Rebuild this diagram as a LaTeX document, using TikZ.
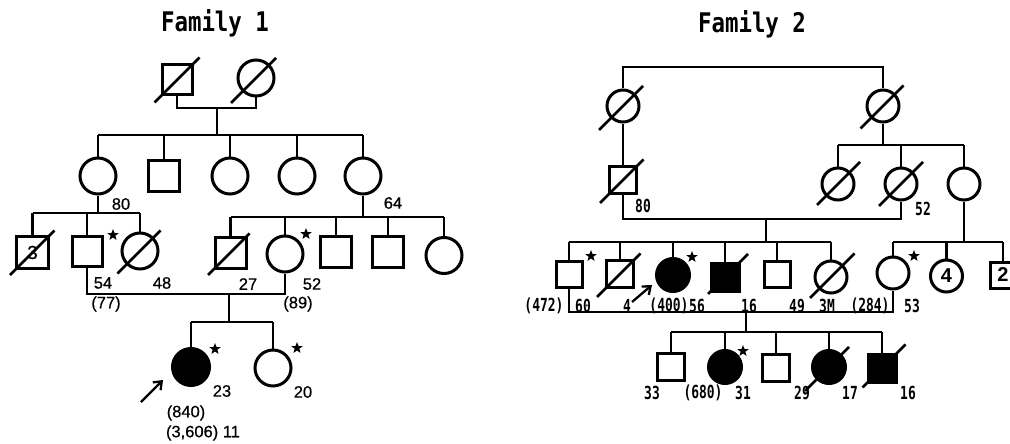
\documentclass[tikz,border=0pt]{standalone}
\usepackage{fontspec}
\setmainfont{Liberation Sans}
\newfontfamily\labfont[FakeBold=0.6]{Liberation Sans}
\newfontfamily\monofont[FakeStretch=0.83]{DejaVu Sans Mono}
\newfontfamily\narrowfont[FakeStretch=0.72]{DejaVu Sans Mono}
\usetikzlibrary{shapes.geometric,arrows.meta,calc}
\tikzset{
 ind/.style={draw,line width=3pt,inner sep=0pt},
 male/.style={ind,rectangle,minimum size=#1},
 male/.default=30,
 fem/.style={ind,circle,minimum size=#1},
 fem/.default=36,
 aff/.style={fill=black},
 conn/.style={line width=2.7pt},
 slashl/.style={line width=2.6pt},
 starm/.style={star,star points=5,star point ratio=2.4,fill=black,draw=none,minimum size=12pt,inner sep=0pt},
 lab1/.style={font=\labfont\fontsize{16.5}{16.5}\selectfont,inner sep=0pt},
 lab2/.style={font=\narrowfont\bfseries\fontsize{18}{18}\selectfont,inner sep=0pt},
 ttl/.style={font=\monofont\bfseries\fontsize{27}{27}\selectfont,inner sep=0pt},
 inlab/.style={font=\labfont\fontsize{19}{19}\selectfont},
 probarrow/.style={line width=2.3pt,-{Straight Barb[length=7pt,width=11pt]}},
}
\newcommand\slashme[3]{\draw[slashl] ($(#1)+(-#2,#2)$) -- ($(#1)+(#3,-#3)$);}
\begin{document}
\begin{tikzpicture}[x=1pt,y=-1pt]
\useasboundingbox (0,0) rectangle (1010,444);
%%%%%%%%%%%%%%%% Family 1
\node[ttl] (t1) at (215,23) {Family 1};
\node[male=30] (gf) at (177,80) {};
\node[fem=36] (gm) at (256,78) {};
\slashme{gf}{22.5}{22.5}
\slashme{gm}{25}{20}
\coordinate (m1) at (217,108);
\coordinate (sib1) at (217,135);
\draw[conn] (gf.south) |- (m1) -| (gm.south);
\draw[conn] (m1) -- (sib1);
% generation II
\node[fem] (a1) at (98,176) {};
\node[male=31] (a2) at (164,175.5) {};
\node[fem] (a3) at (230,176) {};
\node[fem] (a4) at (297,176) {};
\node[fem] (a5) at (363,176) {};
\draw[conn] (a1.north |- sib1) -- (a5.north |- sib1);
\foreach \n in {a1,a2,a3,a4,a5} \draw[conn] (\n.north) -- (\n.north |- sib1);
% sibship of a1
\coordinate (sib2) at (98,213);
\draw[conn] (a1.south) -- (sib2);
\node[male=32,inlab] (b1) at (32.5,252.5) {3};
\node[male=30] (b2) at (87,251.5) {};
\node[fem] (b3) at (140,251) {};
\slashme{b1}{22.5}{22}
\slashme{b3}{22.5}{20.5}
\draw[conn] (b1.north |- sib2) -- (b3.north |- sib2);
\foreach \n in {b1,b2,b3} \draw[conn] (\n.north) -- (\n.north |- sib2);
% sibship of a5
\coordinate (sib3) at (363,217);
\draw[conn] (a5.south) -- (sib3);
\node[male=31] (c1) at (230.5,252.5) {};
\node[fem] (c2) at (285,254) {};
\node[male=31] (c3) at (336,252) {};
\node[male=31] (c4) at (388,252) {};
\node[fem] (c5) at (444,255.5) {};
\slashme{c1}{22.5}{19}
\draw[conn] (c1.north |- sib3) -- (c5.north |- sib3);
\foreach \n in {c1,c2,c3,c4,c5} \draw[conn] (\n.north) -- (\n.north |- sib3);
% marriage b2 - c2
\coordinate (m2) at (229,294);
\coordinate (sib4) at (229,322);
\draw[conn] (b2.south) |- (m2) -| (c2.south);
\draw[conn] (m2) -- (sib4);
\node[fem=37,aff] (d1) at (191,367) {};
\node[fem] (d2) at (273,368) {};
\draw[conn] (d1.north |- sib4) -- (d2.north |- sib4);
\foreach \n in {d1,d2} \draw[conn] (\n.north) -- (\n.north |- sib4);
% stars
\node[starm] (s1) at (113,235) {};
\node[starm] (s2) at (306,234) {};
\node[starm] (s3) at (215,349) {};
\node[starm] (s4) at (297,348) {};
% labels
\node[lab1] (l80) at (121,204) {80};
\node[lab1] (l64) at (393,203) {64};
\node[lab1] (l54) at (103,283) {54};
\node[lab1] (l48) at (162,283) {48};
\node[lab1] (l27) at (248,284) {27};
\node[lab1] (l52) at (312,284) {52};
\node[lab1] (l77) at (106,304) {(77)};
\node[lab1] (l89) at (298,304) {(89)};
\node[lab1] (l23) at (222,391) {23};
\node[lab1] (l20) at (303,392) {20};
\node[lab1] (l840) at (186,413) {(840)};
\node[lab1] (l3606) at (203,433) {(3,606) 11};
\coordinate (ar1s) at (141,402);
\coordinate (ar1e) at (163,380);
\draw[probarrow] (ar1s) -- (ar1e);
%%%%%%%%%%%%%%%% Family 2
\node[ttl] (t2) at (752,24) {Family 2};
\node[fem=32] (A) at (623,106) {};
\node[fem=32] (B) at (883,106) {};
\slashme{A}{24}{20}
\slashme{B}{22.5}{20.5}
\coordinate (top2) at (753,67);
\draw[conn] (A.north) |- (top2) -| (B.north);
\node[male=27] (C) at (623,180) {};
\slashme{C}{23}{20.5}
\draw[conn] (A.south) -- (C.north);
\coordinate (sib5) at (900,145);
\draw[conn] (B.south) -- (B.south |- sib5);
\node[fem=32] (D1) at (838,184) {};
\node[fem=32] (D2) at (901,184) {};
\node[fem=32] (D3) at (964,184) {};
\slashme{D1}{21}{22}
\slashme{D2}{22}{22}
\draw[conn] (D1.north |- sib5) -- (D3.north |- sib5);
\foreach \n in {D1,D2,D3} \draw[conn] (\n.north) -- (\n.north |- sib5);
\coordinate (m3) at (766,219);
\coordinate (sib6) at (766,242);
\draw[conn] (C.south) |- (m3) -| (D2.south);
\draw[conn] (m3) -- (sib6);
% generation III
\node[male=26] (E1) at (569,274) {};
\node[male=27] (E2) at (620,274) {};
\node[fem=33,aff] (E3) at (673,275) {};
\node[male=28,aff] (E4) at (725,277) {};
\node[male=26] (E5) at (777,274.5) {};
\node[fem=32] (E6) at (831,277) {};
\node[fem=32] (E7) at (893,273) {};
\node[fem=32,font=\bfseries\fontsize{20}{20}\selectfont] (E8) at (946.5,276) {4};
\node[male=26,font=\bfseries\fontsize{20}{20}\selectfont] (E9) at (1003,275) {2};
\slashme{E2}{23}{20.5}
\slashme{E4}{17}{23}
\slashme{E6}{21}{23.5}
\draw[conn] (E1.north |- sib6) -- (E6.north |- sib6);
\foreach \n in {E1,E2,E3,E4,E5,E6} \draw[conn] (\n.north) -- (\n.north |- sib6);
\coordinate (sib7) at (964,242);
\draw[conn] (D3.south) -- (sib7);
\draw[conn] (E7.north |- sib7) -- (E9.north |- sib7);
\foreach \n in {E7,E8,E9} \draw[conn] (\n.north) -- (\n.north |- sib7);
\coordinate (m4) at (746,312);
\coordinate (sib8) at (746,332);
\draw[conn] (E1.south) |- (m4) -| (E7.south);
\draw[conn] (m4) -- (sib8);
% generation IV
\node[male=27] (G1) at (671,367) {};
\node[fem=33,aff] (G2) at (725,367) {};
\node[male=27] (G3) at (776,367.5) {};
\node[fem=33,aff] (G4) at (829,367) {};
\node[male=28,aff] (G5) at (882,368) {};
\slashme{G4}{24}{20}
\slashme{G5}{19.5}{23.5}
\draw[conn] (G1.north |- sib8) -- (G5.north |- sib8);
\foreach \n in {G1,G2,G3,G4,G5} \draw[conn] (\n.north) -- (\n.north |- sib8);
% stars
\node[starm] (s5) at (591,256) {};
\node[starm] (s6) at (692,257) {};
\node[starm] (s7) at (914,256) {};
\node[starm] (s8) at (743,351) {};
% labels
\node[lab2] (k80) at (643,206) {80};
\node[lab2] (k52) at (923,209) {52};
\node[lab2] (k472) at (544,306) {(472)};
\node[lab2] (k60) at (583,306) {60};
\node[lab2] (k4) at (627,306) {4};
\node[lab2] (k400) at (669,306) {(400)};
\node[lab2] (k56) at (697,306) {56};
\node[lab2] (k16a) at (749,306) {16};
\node[lab2] (k49) at (797,306) {49};
\node[lab2] (k3M) at (827,306) {3M};
\node[lab2] (k284) at (870,306) {(284)};
\node[lab2] (k53) at (912,306) {53};
\node[lab2] (k33) at (652,393) {33};
\node[lab2] (k680) at (703,393) {(680)};
\node[lab2] (k31) at (743,393) {31};
\node[lab2] (k29) at (802,393) {29};
\node[lab2] (k17) at (850,393) {17};
\node[lab2] (k16b) at (908,393) {16};
\coordinate (ar2s) at (632,302);
\coordinate (ar2e) at (652,285);
\draw[probarrow] (ar2s) -- (ar2e);
\end{tikzpicture}
\end{document}
